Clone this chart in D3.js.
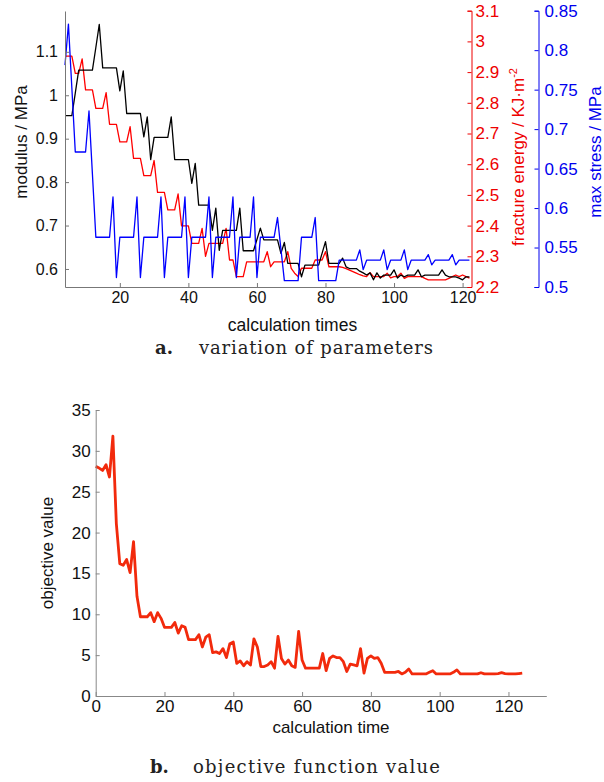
<!DOCTYPE html>
<html><head><meta charset="utf-8">
<script src="https://cdn.jsdelivr.net/npm/d3@7"></script>
<style>body{margin:0;background:#fff}svg{display:block}</style>
</head><body>
<svg id="c" width="604" height="782"></svg>
<script>
// ---------- data: chart a (calculation times 4..122) ----------
const iterStartA = 4;
const modulus = [0.953,0.953,0.953,1.005,1.058,1.058,1.058,1.058,1.058,1.110,1.163,
1.063,1.063,1.063,1.063,1.063,1.010,1.056,0.958,0.958,0.958,0.958,0.958,0.904,0.950,0.852,
0.903,0.903,0.903,0.903,0.903,0.950,0.852,0.852,0.852,0.852,0.852,0.797,0.843,
0.747,0.747,0.747,0.747,0.689,0.740,0.643,0.689,0.689,0.689,0.689,0.689,0.740,
0.642,0.642,0.642,0.642,0.668,0.694,0.667,0.667,0.667,0.667,0.667,0.636,0.661,
0.613,0.613,0.613,0.613,0.582,0.609,0.609,0.609,0.609,0.609,0.636,0.663,
0.613,0.613,0.613,0.613,0.625,0.605,0.601,0.601,0.601,
0.595,0.591,0.586,0.591,0.575,0.591,0.579,0.586,0.586,0.586,0.598,0.579,0.586,0.582,
0.586,0.586,0.586,0.598,0.582,0.586,0.586,0.586,0.586,0.586,0.598,0.586,
0.582,0.582,0.582,0.579,0.575,0.582,0.582];
const fractureEnergy = [2.952,2.952,2.952,2.896,2.896,2.943,2.842,2.842,2.842,
2.782,2.782,2.782,2.833,2.730,2.730,2.730,2.673,2.673,2.673,2.722,2.619,2.619,2.619,
2.563,2.563,2.563,2.612,2.508,2.508,2.508,2.451,2.451,2.451,2.503,2.399,2.399,2.399,
2.342,2.342,2.342,2.391,2.300,2.342,2.342,2.342,2.342,2.342,2.391,2.288,2.288,
2.234,2.234,2.234,2.282,2.282,2.282,2.282,2.282,2.282,2.315,2.266,2.282,2.282,2.282,2.282,
2.315,2.261,2.245,2.234,2.261,2.261,2.261,2.261,2.288,2.288,2.288,2.315,
2.266,2.266,2.266,2.266,2.264,2.260,2.255,2.250,2.245,2.240,2.236,2.234,
2.247,2.234,2.234,2.234,2.234,2.245,2.230,2.234,2.234,2.245,2.228,
2.234,2.234,2.234,2.234,2.234,2.228,2.223,2.223,2.223,2.223,2.223,2.223,
2.228,2.234,2.239,2.234,2.239,2.234,2.229];
const maxStress = [0.781,0.833,0.752,0.671,0.671,0.671,0.671,0.723,0.643,
0.563,0.563,0.563,0.563,0.563,0.614,0.512,0.563,0.563,0.563,0.563,0.563,0.614,0.512,
0.563,0.563,0.563,0.563,0.563,0.614,0.512,0.563,0.563,0.563,0.563,0.563,0.614,0.512,
0.563,0.563,0.563,0.563,0.563,0.614,0.512,0.563,0.563,0.563,0.563,0.563,0.614,0.512,
0.563,0.563,0.563,0.563,0.614,0.512,0.563,0.563,0.563,0.563,0.563,0.588,0.548,
0.508,0.508,0.508,0.508,0.508,0.563,0.563,0.563,0.563,0.588,
0.508,0.508,0.508,0.508,0.508,0.508,0.534,0.534,0.534,0.534,0.534,0.534,0.547,0.522,
0.534,0.534,0.534,0.534,0.534,0.547,0.522,0.534,0.534,0.534,0.534,0.547,0.522,
0.534,0.534,0.534,0.534,0.534,0.541,0.528,0.534,0.534,0.534,0.534,0.534,0.541,0.528,
0.534,0.534,0.534,0.534];
const iterTicksA = [20,40,60,80,100,120];
const modTicks = [0.6,0.7,0.8,0.9,1.0,1.1];
const energyTicks = [2.2,2.3,2.4,2.5,2.6,2.7,2.8,2.9,3.0,3.1];
const stressTicks = [0.5,0.55,0.6,0.65,0.7,0.75,0.8,0.85];

// ---------- data: chart b (calculation time 0..124) ----------
const iterStartB = 0;
const objectiveValue = [28.1,27.9,27.6,28.3,26.8,31.8,21.1,16.2,16.0,16.7,15.1,18.9,12.2,
9.7,9.7,9.7,10.2,9.1,10.2,9.5,8.4,8.4,8.4,9.0,7.7,8.6,8.4,6.9,6.9,6.9,7.5,6.0,7.2,7.5,
5.3,5.4,5.2,5.8,4.7,6.4,6.6,4.0,4.3,3.7,4.2,3.8,7.0,6.0,3.6,3.6,3.8,4.2,3.4,7.3,4.6,
3.9,4.4,3.7,3.5,7.9,4.4,3.4,3.4,3.4,3.4,3.4,5.2,3.1,4.6,4.9,4.7,4.7,4.2,3.0,3.9,3.8,
3.7,5.8,2.8,4.6,4.9,4.6,4.7,4.0,2.9,2.9,2.9,2.9,3.0,2.7,2.9,3.3,2.7,2.7,2.7,2.7,2.7,
2.9,3.1,2.7,2.7,2.7,2.7,2.7,2.9,3.2,2.7,2.7,2.7,2.7,2.7,2.7,2.85,2.7,2.7,2.7,2.7,2.75,
2.85,2.75,2.7,2.7,2.7,2.75,2.8];
const iterTicksB = [0,20,40,60,80,100,120];
const objTicks = [0,5,10,15,20,25,30,35];

// ---------- drawing ----------
const svg = d3.select('#c');
const FONT = "'Liberation Sans', Arial, sans-serif";
const fmt = d3.format('~g');

function styleAxis(g, color, size) {
  g.selectAll('path.domain').attr('stroke', color).attr('stroke-width', 1);
  g.selectAll('.tick line').attr('stroke', color).attr('stroke-width', 1);
  g.selectAll('.tick text').attr('fill', color).attr('font-family', FONT).attr('font-size', size);
}

// chart a
const xA = d3.scaleLinear().domain([4, 122.6]).range([65, 471.5]);
const yMod = d3.scaleLinear().domain([0.5585, 1.194]).range([287, 11]);
const yEn = d3.scaleLinear().domain([2.2, 3.1]).range([287, 10.7]);
const ySt = d3.scaleLinear().domain([0.5, 0.85]).range([287, 10.7]);

const gA = svg.append('g');
const seriesA = [
  {vals: fractureEnergy, y: yEn, color: '#ff0000'},
  {vals: modulus, y: yMod, color: '#000000'},
  {vals: maxStress, y: ySt, color: '#0000ff'}
];
seriesA.forEach(s => {
  const line = d3.line().x((d, i) => xA(iterStartA + i)).y(d => s.y(d));
  gA.append('path').datum(s.vals).attr('d', line).attr('fill', 'none')
    .attr('stroke', s.color).attr('stroke-width', 1.3).attr('stroke-linejoin', 'round');
});

const axL = gA.append('g').attr('transform', 'translate(65,0)')
  .call(d3.axisLeft(yMod).tickValues(modTicks).tickFormat(fmt).tickSize(-4).tickSizeOuter(0).tickPadding(7));
styleAxis(axL, '#777', 16); axL.selectAll('.tick text').attr('fill', '#111');
const axB = gA.append('g').attr('transform', 'translate(0,287)')
  .call(d3.axisBottom(xA).tickValues(iterTicksA).tickSize(-4).tickSizeOuter(0).tickPadding(5));
styleAxis(axB, '#777', 16); axB.selectAll('.tick text').attr('fill', '#111');
const axR = gA.append('g').attr('transform', 'translate(471.5,0)')
  .call(d3.axisRight(yEn).tickValues(energyTicks).tickFormat(fmt).tickSize(-4).tickSizeOuter(-4).tickPadding(4));
styleAxis(axR, '#ee0000', 17);
const axS = gA.append('g').attr('transform', 'translate(538.5,0)')
  .call(d3.axisRight(ySt).tickValues(stressTicks).tickFormat(fmt).tickSize(-4).tickSizeOuter(-4).tickPadding(6));
styleAxis(axS, '#0000ee', 17);

gA.append('text').attr('transform', 'translate(27,142) rotate(-90)').attr('text-anchor', 'middle')
  .attr('font-family', FONT).attr('font-size', 17).attr('fill', '#111').text('modulus / MPa');
gA.append('text').attr('x', 292.5).attr('y', 331).attr('text-anchor', 'middle')
  .attr('font-family', FONT).attr('font-size', 17.5).attr('fill', '#111').text('calculation times');
const tEn = gA.append('text').attr('transform', 'translate(524,157) rotate(-90)').attr('text-anchor', 'middle')
  .attr('font-family', FONT).attr('font-size', 17).attr('fill', '#ee0000');
tEn.append('tspan').text('fracture energy / KJ\u00b7m');
tEn.append('tspan').attr('dy', -7).attr('font-size', 11).text('-2');
gA.append('text').attr('transform', 'translate(601,152) rotate(-90)').attr('text-anchor', 'middle')
  .attr('font-family', FONT).attr('font-size', 17).attr('fill', '#0000ee').text('max stress / MPa');

// caption a
const SERIF = "'DejaVu Serif', 'Liberation Serif', serif";
svg.append('text').attr('x', 155).attr('y', 354).attr('font-family', SERIF).attr('font-weight', 'bold')
  .attr('font-size', 18).attr('fill', '#222').text('a.');
svg.append('text').attr('x', 199).attr('y', 354).attr('font-family', SERIF)
  .attr('font-size', 18).attr('fill', '#222').attr('textLength', 234).attr('lengthAdjust', 'spacing')
  .text('variation of parameters');

// chart b
const xB = d3.scaleLinear().domain([0, 131]).range([95.7, 546.3]);
const yB = d3.scaleLinear().domain([0, 35]).range([696, 410]);
const gB = svg.append('g');
gB.append('path').datum(objectiveValue)
  .attr('d', d3.line().x((d, i) => xB(iterStartB + i)).y(d => yB(d)))
  .attr('fill', 'none').attr('stroke', '#f22a0c').attr('stroke-width', 2.8).attr('stroke-linejoin', 'round');
const bL = gB.append('g').attr('transform', 'translate(95.7,0)')
  .call(d3.axisLeft(yB).tickValues(objTicks).tickSize(-4).tickSizeOuter(0).tickPadding(5));
styleAxis(bL, '#888', 17); bL.selectAll('.tick text').attr('fill', '#111');
const bB = gB.append('g').attr('transform', 'translate(0,696)')
  .call(d3.axisBottom(xB).tickValues(iterTicksB).tickSize(-4).tickSizeOuter(0).tickPadding(4));
styleAxis(bB, '#888', 17); bB.selectAll('.tick text').attr('fill', '#111');
gB.append('text').attr('transform', 'translate(53,553) rotate(-90)').attr('text-anchor', 'middle')
  .attr('font-family', FONT).attr('font-size', 17).attr('fill', '#111').text('objective value');
gB.append('text').attr('x', 331).attr('y', 733).attr('text-anchor', 'middle')
  .attr('font-family', FONT).attr('font-size', 17).attr('fill', '#111').text('calculation time');

// caption b
svg.append('text').attr('x', 150).attr('y', 773).attr('font-family', SERIF).attr('font-weight', 'bold')
  .attr('font-size', 18).attr('fill', '#222').text('b.');
svg.append('text').attr('x', 193).attr('y', 773).attr('font-family', SERIF)
  .attr('font-size', 18).attr('fill', '#222').attr('textLength', 247).attr('lengthAdjust', 'spacing')
  .text('objective function value');
</script>
</body></html>
